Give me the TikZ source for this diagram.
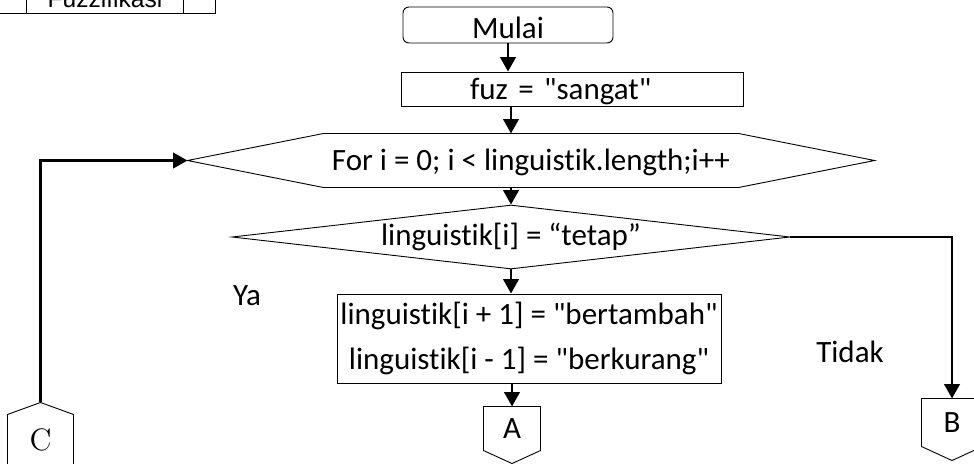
\documentclass[tikz,border=0pt]{standalone}
\usepackage{fontspec}
\setmainfont{Carlito}[Ligatures={NoCommon}]
\newfontfamily\arialfont{Liberation Sans}
\newfontfamily\lmfont{Latin Modern Roman}
\usetikzlibrary{arrows.meta,shapes.geometric,calc}
\newdimen\pu \pu=0.387pt
\newcommand{\dq}{\textquotedbl}

\begin{document}
\begin{tikzpicture}[x=0.387pt, y=-0.387pt, font=\fontsize{12}{19}\selectfont,
  every node/.style={inner sep=0pt},
  shape line/.style={draw, line width=0.35pt},
  proc node/.style={rectangle, shape line},
  flow/.style={line width=1pt, -{Triangle[length=5.6pt, width=6pt]}}]
\useasboundingbox (0,0) rectangle (974,463);
\clip (0,0) rectangle (974,463);
% blocks
\node[proc node, minimum width=220\pu, text height=37\pu, text depth=6\pu, font=\arialfont\fontsize{9.5}{11}\selectfont] (fuzzy) at (105,-8.5) {Fuzzifikasi};
\draw[shape line] ([xshift=32\pu]fuzzy.north west) -- ([xshift=32\pu]fuzzy.south west);
\draw[shape line] ([xshift=-32\pu]fuzzy.north east) -- ([xshift=-32\pu]fuzzy.south east);
\node[proc node, rounded corners=6\pu, minimum width=210\pu, text height=31\pu, text depth=5\pu] (mulai) at (508,25) {Mulai};
\node[proc node, text width=204\pu, inner xsep=69\pu, align=left, text height=27\pu, text depth=7\pu] (fuz) at (572,89) {fuz = \dq sangat\dq};
\node[minimum width=686\pu, text height=36\pu, text depth=17\pu] (for) at (531,160.5) {For i = 0; i < linguistik.length;i++};
\draw[shape line] (for.west) -- ([xshift=136\pu]for.north west) -- ([xshift=-136\pu]for.north east) -- (for.east) -- ([xshift=-136\pu]for.south east) -- ([xshift=136\pu]for.south west) -- cycle;
\node[diamond, shape line, aspect=8.7, minimum width=558\pu, minimum height=64\pu, text height=24\pu, text depth=8\pu] (dec) at (511,237) {linguistik[i] = “tetap”};
\node[proc node, minimum width=384\pu, minimum height=89\pu, align=center, font=\fontsize{12}{17.5}\selectfont] (proc) at (529,338.5) {linguistik[i + 1] = \dq bertambah\dq\\linguistik[i - 1] = \dq berkurang\dq};
% connectors
\node[minimum width=56\pu, minimum height=43\pu] (A) at (512,428.5) {A};
\draw[shape line] (A.south west) -- (A.north west) -- (A.north east) -- (A.south east) -- ($(A.south)+(0,13)$) -- cycle;
\node[minimum width=60\pu, minimum height=47\pu] (B) at (952,422.5) {B};
\draw[shape line] (B.south west) -- (B.north west) -- (B.north east) -- (B.south east) -- ($(B.south)+(0,14)$) -- cycle;
\node[minimum width=65\pu, minimum height=50\pu, font=\lmfont\fontsize{12}{14}\selectfont] (C) at (40.5,440) {C};
\coordinate (Ctop) at ($(C.north)+(0,-12)$);
\draw[shape line] (C.south west) -- (C.north west) -- (Ctop) -- (C.north east) -- (C.south east);
% flow
\draw[flow] (mulai.south) -- (mulai.south |- fuz.north);
\draw[flow] (fuz.south -| dec.north) -- (for.north -| dec.north);
\draw[flow] (for.south -| dec.north) -- (dec.north);
\draw[flow] (dec.south) -- (proc.north -| dec.south);
\draw[flow] (proc.south -| A.north) -- (A.north);
\draw[flow] (dec.east) -| (B.north);
\draw[flow] (Ctop) |- (for.west);
\node[anchor=base] (ya) at (247,305) {Ya};
\node[anchor=base] (tidak) at (850,362) {Tidak};
\end{tikzpicture}
\end{document}
